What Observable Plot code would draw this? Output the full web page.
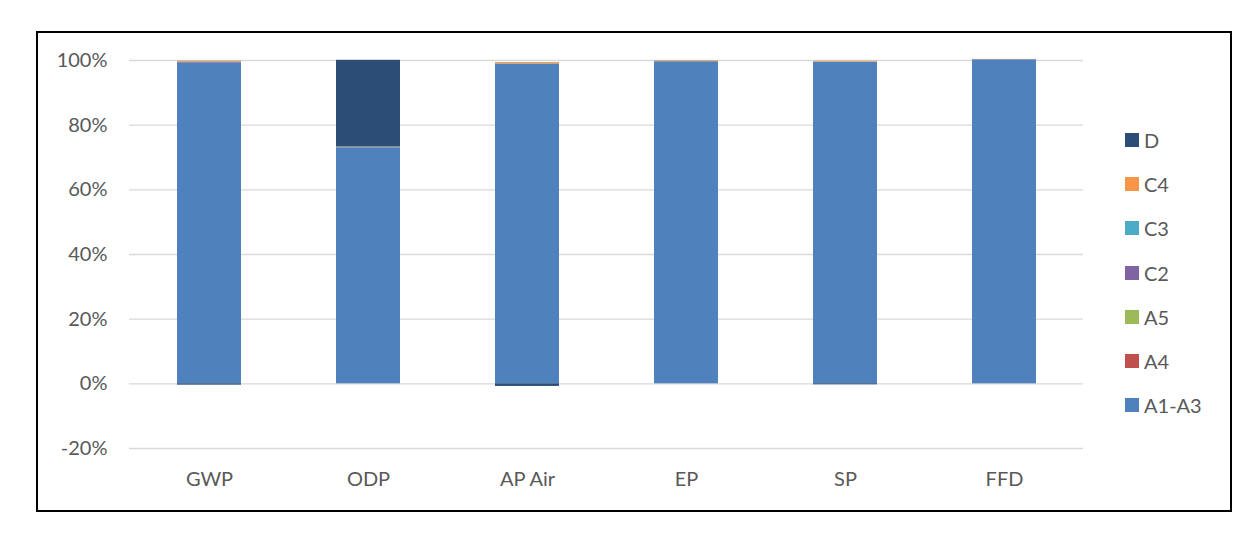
<!DOCTYPE html>
<html>
<head>
<meta charset="utf-8">
<script src="https://cdn.jsdelivr.net/npm/d3@7"></script>
<script src="https://cdn.jsdelivr.net/npm/@observablehq/plot@0.6"></script>
<style>
  html, body { margin: 0; padding: 0; background: #fff; }
  #wrap { position: relative; width: 1256px; height: 540px; font-family: Lato, "Open Sans", sans-serif; }
  #frame { position: absolute; left: 36px; top: 31px; width: 1192px; height: 477px; border: 2px solid #000; pointer-events: none; }
  #legend { position: absolute; left: 1125px; top: 0; }
  .item { position: absolute; left: 0; display: flex; align-items: center; white-space: nowrap; font-size: 20px; color: #595959; }
  .sw { width: 14px; height: 14px; margin-right: 5px; }
  #chart { position: absolute; left: 0; top: 0; }
</style>
</head>
<body>
<div id="wrap">
  <div id="chart"></div>
  <div id="legend"></div>
  <div id="frame"></div>
</div>
<script>
const categories = ["GWP", "ODP", "AP Air", "EP", "SP", "FFD"];
const seriesNames = ["A1-A3", "A4", "A5", "C2", "C3", "C4", "D"];
const seriesColors = ["#4f81bd", "#c0504d", "#9bbb59", "#8064a2", "#4bacc6", "#f79646", "#2c4d75"];
// values as fractions (1 = 100%), one array per series, in category order
const valA1A3 = [0.993, 0.730, 0.988, 0.996, 0.994, 1.002];
const valA4   = [0.001, 0.0005, 0.001, 0.0005, 0.0005, 0.0003];
const valA5   = [0.001, 0.0005, 0.0005, 0.0005, 0.0005, 0.0002];
const valC2   = [0.001, 0.0005, 0.0005, 0.0005, 0.0005, 0.0002];
const valC3   = [0.0005, 0.0005, 0.0005, 0.0005, 0.0005, 0.0002];
const valC4   = [0.002, 0.0005, 0.003, 0.0015, 0.002, 0.0005];
const valD    = [-0.004, 0.268, -0.008, 0.0, -0.003, 0.0];
const yTicks = [-0.2, 0, 0.2, 0.4, 0.6, 0.8, 1.0];

const seriesValues = [valA1A3, valA4, valA5, valC2, valC3, valC4, valD];
const data = [];
categories.forEach((c, i) => {
  seriesNames.forEach((s, j) => {
    data.push({category: c, series: s, value: seriesValues[j][i]});
  });
});

const chart = Plot.plot({
  width: 1256,
  height: 540,
  marginLeft: 129,
  marginRight: 173,
  marginTop: 60,
  marginBottom: 92,
  style: {fontFamily: "Lato, 'Open Sans', sans-serif", fontSize: "20px", color: "#595959", background: "transparent"},
  x: {domain: categories, paddingInner: 0.6, paddingOuter: 0.3, label: null},
  y: {domain: [-0.2, 1.0], label: null},
  color: {domain: seriesNames, range: seriesColors},
  marks: [
    Plot.gridY(yTicks, {stroke: "#d9d9d9", strokeOpacity: 1, strokeWidth: 1.4}),
    Plot.barY(data, {x: "category", y: "value", fill: "series", order: seriesNames}),
    Plot.axisX({tickSize: 0, tickPadding: 23, fill: "#595959", label: null}),
    Plot.axisY({ticks: yTicks, tickFormat: d => Math.round(d * 100) + "%", tickSize: 0, tickPadding: 22, fill: "#595959", label: null})
  ]
});
document.getElementById("chart").appendChild(chart);

// legend: top item is D, bottom A1-A3
const legend = document.getElementById("legend");
const legendOrder = seriesNames.slice().reverse();
const legendColors = seriesColors.slice().reverse();
legendOrder.forEach((s, k) => {
  const it = document.createElement("div");
  it.className = "item";
  it.style.top = (140 + k * 44.2 - 12) + "px";
  it.style.height = "24px";
  const sw = document.createElement("div");
  sw.className = "sw";
  sw.style.background = legendColors[k];
  const tx = document.createElement("span");
  tx.textContent = s;
  it.appendChild(sw);
  it.appendChild(tx);
  legend.appendChild(it);
});
</script>
</body>
</html>
